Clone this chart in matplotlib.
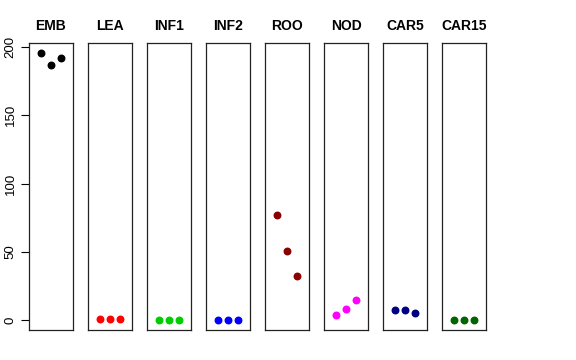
import matplotlib
matplotlib.use("Agg")
import matplotlib.pyplot as plt

plt.rcParams['font.family'] = ['Liberation Sans', 'DejaVu Sans']

# tissue panels and replicate values
tissues = ["EMB", "LEA", "INF1", "INF2", "ROO", "NOD", "CAR5", "CAR15"]
colors = ["black", "red", "#00CD00", "blue", "#8B0000", "magenta", "#000080", "#006400"]
reps = [1, 2, 3]
emb = [195.5, 187, 192]
lea = [0.6, 0.6, 0.6]
inf1 = [0.1, 0.1, 0.1]
inf2 = [0.1, 0.1, 0.1]
roo = [77, 50.3, 32]
nod = [3.7, 8.3, 14.7]
car5 = [7.5, 7.5, 5.5]
car15 = [0.1, 0.1, 0.1]
values = [emb, lea, inf1, inf2, roo, nod, car5, car15]

fig = plt.figure(figsize=(5.76, 3.6), dpi=100)

left0 = 29 / 576
width = 44 / 576
step = 59 / 576
bottom = 30 / 360
height = 287 / 360

for i, (name, col, vals) in enumerate(zip(tissues, colors, values)):
    ax = fig.add_axes([left0 + i * step, bottom, width, height])
    ax.scatter(reps, vals, s=22, color=col, zorder=3)
    ax.set_xlim(-0.2, 4.2)
    ax.set_ylim(-7.3, 203)
    ax.set_xticks([])
    ax.set_title(name, fontsize=10, fontweight="bold", pad=9)
    for sp in ax.spines.values():
        sp.set_linewidth(0.9)
        sp.set_color("#222222")
    if i == 0:
        ax.set_yticks([0, 50, 100, 150, 200])
        ax.tick_params(axis="y", length=6, width=0.8, labelsize=9.5, pad=3)
        for lab in ax.get_yticklabels():
            lab.set_rotation(90)
            lab.set_va("center")
    else:
        ax.set_yticks([])

fig.savefig("out.png", dpi=100)
